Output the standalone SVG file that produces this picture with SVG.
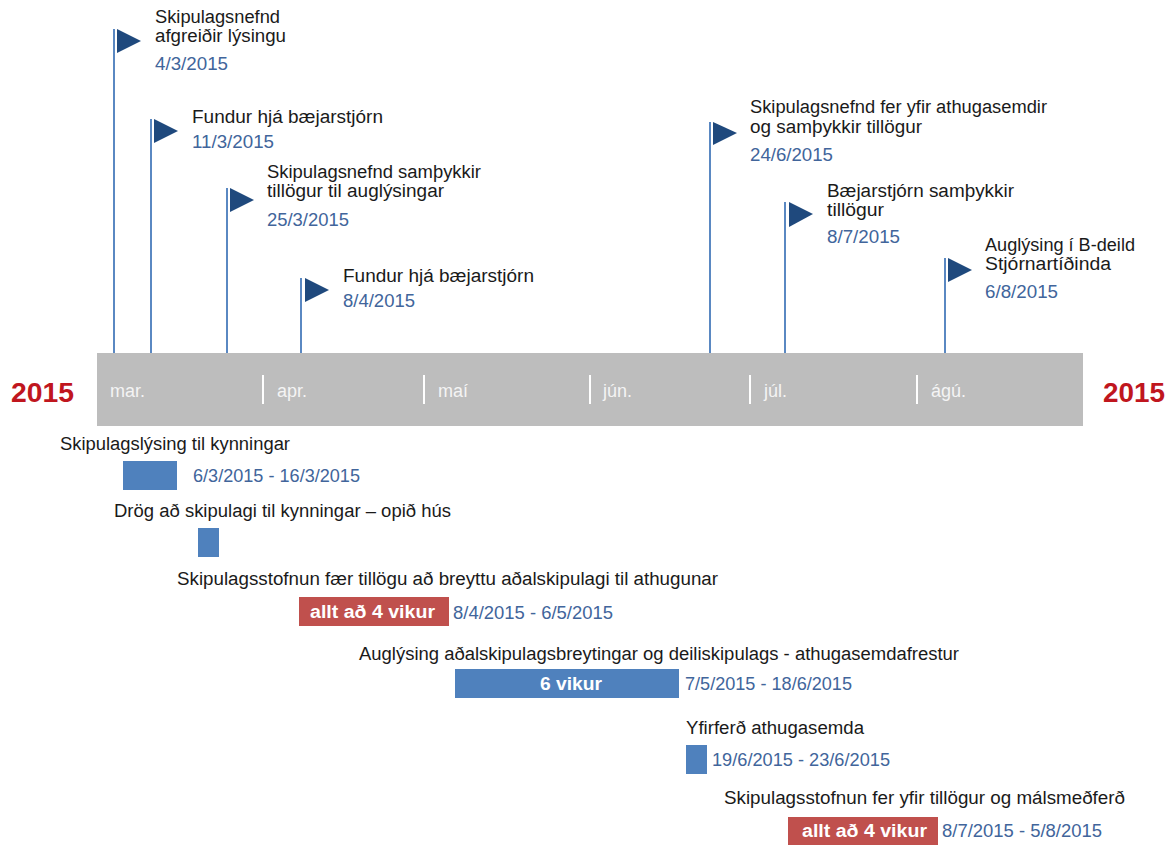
<svg xmlns="http://www.w3.org/2000/svg" width="1176" height="845" viewBox="0 0 1176 845">
<style>
text{font-family:"Liberation Sans",Arial,sans-serif;font-size:18px}
.t{fill:#1a1a1a}
.d{fill:#41659B}
.m{fill:#F4F4F4}
.y{font-weight:bold;font-size:28px;fill:#C0161E}
.w{font-weight:bold;fill:#ffffff}
.flag{fill:#1F497D}
.pole{stroke:#5A88C2;stroke-width:2;fill:none}
.sep{stroke:#ffffff;stroke-width:2}
.bb{fill:#4F81BD}
.rb{fill:#C0504D}
</style>
<rect width="1176" height="845" fill="#ffffff"/>
<g id="connectors">
<line class="pole" x1="114" y1="29" x2="114" y2="353"/>
<line class="pole" x1="151" y1="119" x2="151" y2="353"/>
<line class="pole" x1="227" y1="188" x2="227" y2="353"/>
<line class="pole" x1="301" y1="278" x2="301" y2="353"/>
<line class="pole" x1="710" y1="122" x2="710" y2="353"/>
<line class="pole" x1="785" y1="202" x2="785" y2="353"/>
<line class="pole" x1="945" y1="258" x2="945" y2="353"/>
</g>
<g id="timeline">
<rect x="97" y="353" width="986" height="73" fill="#BDBDBD"/>
<line class="sep" x1="263" y1="375" x2="263" y2="404"/>
<line class="sep" x1="424" y1="375" x2="424" y2="404"/>
<line class="sep" x1="590" y1="375" x2="590" y2="404"/>
<line class="sep" x1="750" y1="375" x2="750" y2="404"/>
<line class="sep" x1="917" y1="375" x2="917" y2="404"/>
<text class="m" x="110" y="397">mar.</text>
<text class="m" x="277" y="397">apr.</text>
<text class="m" x="438" y="397">maí</text>
<text class="m" x="603" y="397">jún.</text>
<text class="m" x="764" y="397">júl.</text>
<text class="m" x="931" y="397">ágú.</text>
<text class="y" x="11" y="402" textLength="63" lengthAdjust="spacingAndGlyphs">2015</text>
<text class="y" x="1103" y="402" textLength="62" lengthAdjust="spacingAndGlyphs">2015</text>
</g>
<g id="m1">
<polygon class="flag" points="117,29 141,41 117,53"/>
<text class="t" x="155" y="23" textLength="125" lengthAdjust="spacingAndGlyphs">Skipulagsnefnd</text>
<text class="t" x="155" y="42" textLength="131" lengthAdjust="spacingAndGlyphs">afgreiðir lýsingu</text>
<text class="d" x="155" y="70" textLength="73" lengthAdjust="spacingAndGlyphs">4/3/2015</text>
</g>
<g id="m2">
<polygon class="flag" points="154,119 178,131 154,143"/>
<text class="t" x="192" y="123" textLength="191" lengthAdjust="spacingAndGlyphs">Fundur hjá bæjarstjórn</text>
<text class="d" x="192" y="148" textLength="82" lengthAdjust="spacingAndGlyphs">11/3/2015</text>
</g>
<g id="m3">
<polygon class="flag" points="230,188 254,200 230,212"/>
<text class="t" x="267" y="178" textLength="214" lengthAdjust="spacingAndGlyphs">Skipulagsnefnd samþykkir</text>
<text class="t" x="267" y="197" textLength="177" lengthAdjust="spacingAndGlyphs">tillögur til auglýsingar</text>
<text class="d" x="267" y="226" textLength="82" lengthAdjust="spacingAndGlyphs">25/3/2015</text>
</g>
<g id="m4">
<polygon class="flag" points="305,278 329,290 305,302"/>
<text class="t" x="343" y="282" textLength="191" lengthAdjust="spacingAndGlyphs">Fundur hjá bæjarstjórn</text>
<text class="d" x="343" y="307" textLength="72" lengthAdjust="spacingAndGlyphs">8/4/2015</text>
</g>
<g id="m5">
<polygon class="flag" points="713,122 737,133 713,145"/>
<text class="t" x="750" y="113" textLength="297" lengthAdjust="spacingAndGlyphs">Skipulagsnefnd fer yfir athugasemdir</text>
<text class="t" x="750" y="133" textLength="172" lengthAdjust="spacingAndGlyphs">og samþykkir tillögur</text>
<text class="d" x="750" y="161" textLength="83" lengthAdjust="spacingAndGlyphs">24/6/2015</text>
</g>
<g id="m6">
<polygon class="flag" points="789,202 813,214 789,227"/>
<text class="t" x="827" y="197" textLength="187" lengthAdjust="spacingAndGlyphs">Bæjarstjórn samþykkir</text>
<text class="t" x="827" y="216" textLength="57" lengthAdjust="spacingAndGlyphs">tillögur</text>
<text class="d" x="827" y="243" textLength="73" lengthAdjust="spacingAndGlyphs">8/7/2015</text>
</g>
<g id="m7">
<polygon class="flag" points="948,258 972,270 948,282"/>
<text class="t" x="985" y="251" textLength="150" lengthAdjust="spacingAndGlyphs">Auglýsing í B-deild</text>
<text class="t" x="985" y="270" textLength="126" lengthAdjust="spacingAndGlyphs">Stjórnartíðinda</text>
<text class="d" x="985" y="298" textLength="73" lengthAdjust="spacingAndGlyphs">6/8/2015</text>
</g>
<g id="p1">
<text class="t" x="60" y="450" textLength="230" lengthAdjust="spacingAndGlyphs">Skipulagslýsing til kynningar</text>
<rect class="bb" x="123" y="461" width="54" height="29"/>
<text class="d" x="193" y="482" textLength="167" lengthAdjust="spacingAndGlyphs">6/3/2015 - 16/3/2015</text>
</g>
<g id="p2">
<text class="t" x="114" y="517" textLength="337" lengthAdjust="spacingAndGlyphs">Drög að skipulagi til kynningar – opið hús</text>
<rect class="bb" x="198" y="528" width="21" height="29"/>
</g>
<g id="p3">
<text class="t" x="177" y="585" textLength="541" lengthAdjust="spacingAndGlyphs">Skipulagsstofnun fær tillögu að breyttu aðalskipulagi til athugunar</text>
<rect class="rb" x="299" y="597" width="150" height="29"/>
<text class="w" x="310" y="618" textLength="125" lengthAdjust="spacingAndGlyphs">allt að 4 vikur</text>
<text class="d" x="453" y="619" textLength="160" lengthAdjust="spacingAndGlyphs">8/4/2015 - 6/5/2015</text>
</g>
<g id="p4">
<text class="t" x="359" y="660" textLength="600" lengthAdjust="spacingAndGlyphs">Auglýsing aðalskipulagsbreytingar og deiliskipulags - athugasemdafrestur</text>
<rect class="bb" x="455" y="669" width="224" height="29"/>
<text class="w" x="540" y="690" textLength="62" lengthAdjust="spacingAndGlyphs">6 vikur</text>
<text class="d" x="685" y="690" textLength="167" lengthAdjust="spacingAndGlyphs">7/5/2015 - 18/6/2015</text>
</g>
<g id="p5">
<text class="t" x="686" y="734" textLength="178" lengthAdjust="spacingAndGlyphs">Yfirferð athugasemda</text>
<rect class="bb" x="686" y="745" width="21" height="29"/>
<text class="d" x="712" y="766" textLength="178" lengthAdjust="spacingAndGlyphs">19/6/2015 - 23/6/2015</text>
</g>
<g id="p6">
<text class="t" x="724" y="804" textLength="401" lengthAdjust="spacingAndGlyphs">Skipulagsstofnun fer yfir tillögur og málsmeðferð</text>
<rect class="rb" x="788" y="817" width="150" height="28"/>
<text class="w" x="802" y="837" textLength="125" lengthAdjust="spacingAndGlyphs">allt að 4 vikur</text>
<text class="d" x="942" y="837" textLength="160" lengthAdjust="spacingAndGlyphs">8/7/2015 - 5/8/2015</text>
</g>
</svg>
